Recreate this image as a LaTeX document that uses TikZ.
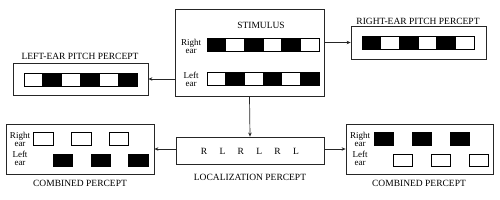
\documentclass[tikz,border=0pt]{standalone}
\usepackage{fontspec}
\setmainfont{Liberation Serif}
\usetikzlibrary{arrows.meta}
\begin{document}
\begin{tikzpicture}[x=1pt,y=-1pt,
  panel/.style={draw=black!85,line width=0.8pt,inner sep=0pt},
  cell/.style={draw,line width=0.6pt,inner sep=0pt,minimum width=18.7pt,minimum height=13pt},
  chip/.style={draw,line width=0.6pt,inner sep=0pt,minimum width=19.5pt,minimum height=12.5pt},
  title/.style={font=\fontsize{9.5}{10}\selectfont,inner sep=0pt},
  ear/.style={font=\fontsize{9}{8}\selectfont,align=center,inner sep=0pt},
  link/.style={-{Stealth[length=4pt,width=3.5pt]},line width=0.7pt,black!85}]
  \useasboundingbox (0,0) rectangle (500,200);
  % stimulus
  \node[panel,minimum width=149pt,minimum height=87pt] (stim) at (249.5,52.5) {};
  \node[title] (stimt) at (261,25) {STIMULUS};
  \node[ear] (stimr) at (191,46) {Right\\ear};
  \node[ear] (stiml) at (191,79) {Left\\ear};
  \foreach \i/\c/\d in {0/black/white,1/white/black,2/black/white,3/white/black,4/black/white,5/white/black}{
    \node[cell,fill=\c] (sr\i) at ({216.3+18.67*\i},44.5) {};
    \node[cell,fill=\d] (sl\i) at ({216.3+18.67*\i},78.5) {};
  }
  % right-ear pitch percept
  \node[panel,minimum width=135pt,minimum height=33pt] (rper) at (418.5,42.5) {};
  \node[title] (rpert) at (418,21) {RIGHT-EAR PITCH PERCEPT};
  \foreach \i/\c in {0/black,1/white,2/black,3/white,4/black,5/white}
    \node[cell,fill=\c] (rp\i) at ({371.3+18.67*\i},42.5) {};
  % left-ear pitch percept
  \node[panel,minimum width=135pt,minimum height=32pt] (lper) at (80.5,79) {};
  \node[title] (lpert) at (80,56) {LEFT-EAR PITCH PERCEPT};
  \foreach \i/\c in {0/white,1/black,2/white,3/black,4/white,5/black}
    \node[cell,fill=\c] (lp\i) at ({33.4+18.83*\i},79.5) {};
  % localization percept
  \node[panel,minimum width=148pt,minimum height=27pt] (loc) at (250,150.5) {};
  \node[title] (loct) at (250,177) {LOCALIZATION PERCEPT};
  \foreach \i/\s in {0/R,1/L,2/R,3/L,4/R,5/L}
    \node[title] (lc\i) at ({204+18.4*\i},151) {\s};
  % combined percepts
  \node[panel,minimum width=148pt,minimum height=50pt] (lcomb) at (80,149) {};
  \node[title] (lcombt) at (80,183) {COMBINED PERCEPT};
  \node[ear] (lcr) at (20,139) {Right\\ear};
  \node[ear] (lcl) at (20,158.5) {Left\\ear};
  \node[panel,minimum width=147pt,minimum height=50pt] (rcomb) at (419.5,149) {};
  \node[title] (rcombt) at (419,183) {COMBINED PERCEPT};
  \node[ear] (rcr) at (360,139) {Right\\ear};
  \node[ear] (rcl) at (360,158.5) {Left\\ear};
  \foreach \i in {0,1,2}{
    \node[chip,fill=white] (lt\i) at ({43.5+37.6*\i},139) {};
    \node[chip,fill=black] (lb\i) at ({63+37.7*\i},160.5) {};
    \node[chip,fill=black] (rt\i) at ({384+38*\i},139) {};
    \node[chip,fill=white] (rb\i) at ({403+38*\i},160.5) {};
  }
  % connectors
  \draw[link] (stim.east |- rper.west) -- (rper.west);
  \draw[link] (stim.west |- lper.east) -- (lper.east);
  \draw[link] (stim.south) -- (loc.north);
  \draw[link] (loc.west |- lcomb.east) -- (lcomb.east);
  \draw[link] (loc.east |- rcomb.west) -- (rcomb.west);
\end{tikzpicture}
\end{document}
